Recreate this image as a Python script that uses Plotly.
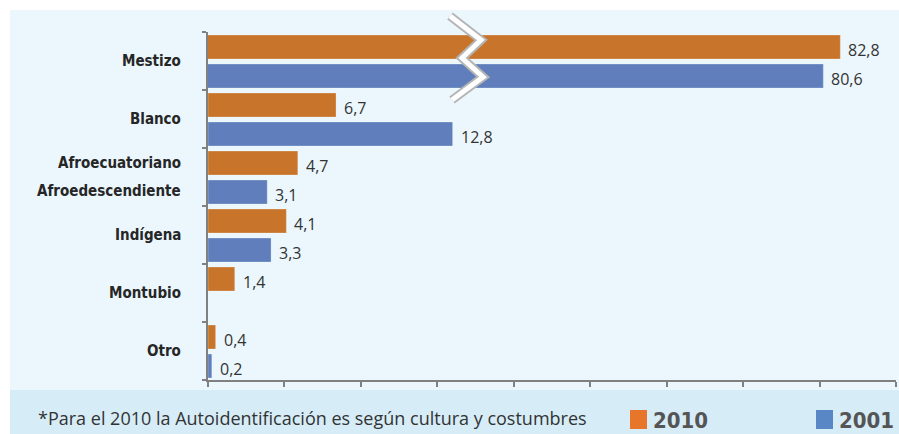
import plotly.graph_objects as go

# Autoidentificación étnica, censos 2010 y 2001 (%)
categories = ["Mestizo", "Blanco", "Afroecuatoriano / Afroedescendiente",
              "Indígena", "Montubio", "Otro"]
pct_2010 = [82.8, 6.7, 4.7, 4.1, 1.4, 0.4]
pct_2001 = [80.6, 12.8, 3.1, 3.3, None, 0.2]
years = ["2010", "2001"]
note = "*Para el 2010 la Autoidentificación es según cultura y costumbres"

AXIS_MAX = 36          # main scale; larger values go on the broken scale
BROKEN_RANGE = [1, 90]

BAR_COLORS = {"2010": "#C8742A", "2001": "#5F7EBB"}
KEY_COLORS = {"2010": "#E8762A", "2001": "#5987C5"}
BAR_OFFSET = {"2010": 0.034, "2001": -0.466}
BAR_WIDTH = 0.414

W, H = 899, 434
ML, MR, MT, MB = 208, 3, 32, 54
PW, PH = W - ML - MR, H - MT - MB

COND_BOLD = "DejaVu Sans Condensed, DejaVu Sans, sans-serif"
TEXT_FONT = "Open Sans, sans-serif"


def fmt(v):
    return f"{v:.1f}".replace(".", ",")


def px_to_paper(px, py):
    return (px - ML) / PW, (H - MB - py) / PH


fig = go.Figure()
annotations = []
for year, vals in zip(years, [pct_2010, pct_2001]):
    small = [v if (v is not None and v <= AXIS_MAX) else None for v in vals]
    big = [v if (v is not None and v > AXIS_MAX) else None for v in vals]
    for xs, xaxis in [(small, "x"), (big, "x2")]:
        fig.add_trace(go.Bar(
            y=categories, x=xs, orientation="h", xaxis=xaxis, yaxis="y",
            name=year, showlegend=False,
            marker=dict(color=BAR_COLORS[year],
                        line=dict(width=0.8, color="rgba(255,255,255,0.35)")),
            offset=BAR_OFFSET[year], width=BAR_WIDTH, hoverinfo="skip",
        ))
        # value labels just past the end of each bar
        for cat, v in zip(categories, xs):
            if v is None:
                continue
            annotations.append(dict(
                text=fmt(v), x=v, xref=xaxis, y=cat, yref="y",
                xanchor="left", yanchor="middle", xshift=6,
                yshift=(BAR_OFFSET[year] + BAR_WIDTH / 2) * PH / len(categories) - 3,
                showarrow=False,
                font=dict(family=TEXT_FONT, size=16, color="#333333")))

fig.update_layout(
    width=W, height=H, barmode="overlay",
    margin=dict(l=ML, r=MR, t=MT, b=MB, pad=0),
    paper_bgcolor="white", plot_bgcolor="rgba(0,0,0,0)",
    xaxis=dict(range=[0, AXIS_MAX], tick0=0, dtick=4, ticks="outside", ticklen=5,
               tickwidth=2, tickcolor="#808080", showticklabels=False,
               showline=True, linecolor="#808080", linewidth=2,
               showgrid=False, zeroline=False, fixedrange=True),
    xaxis2=dict(range=BROKEN_RANGE, overlaying="x", visible=False, fixedrange=True),
    yaxis=dict(type="category", categoryorder="array", categoryarray=categories[::-1],
               range=[-0.5, len(categories) - 0.5], ticks="outside", tickson="boundaries",
               ticklen=4, tickwidth=2, tickcolor="#808080", showticklabels=False,
               showline=True, linecolor="#808080", linewidth=2,
               showgrid=False, zeroline=False, fixedrange=True),
)

# Panel backgrounds
left, _ = px_to_paper(10, 0)
right, _ = px_to_paper(W, 0)
_, top = px_to_paper(0, 10)
_, split = px_to_paper(0, 390)
_, bottom = px_to_paper(0, H)
shapes = [
    dict(type="rect", xref="paper", yref="paper", layer="below",
         x0=left, x1=right, y0=split, y1=top,
         fillcolor="#EBF7FD", line=dict(width=0)),
    dict(type="rect", xref="paper", yref="paper", layer="below",
         x0=left, x1=right, y0=bottom, y1=split,
         fillcolor="#D6EDF8", line=dict(width=0)),
]

# Zigzag break across the long bars
zig = [(450, 16), (481, 40), (462, 58), (483, 77), (452, 100)]
pts = [px_to_paper(x, y) for x, y in zig]
path = "M " + " L ".join(f"{x:.5f},{y:.5f}" for x, y in pts)
for color, lw in [("#B5B5B5", 9), ("white", 5)]:
    shapes.append(dict(type="path", xref="paper", yref="paper", path=path,
                       line=dict(color=color, width=lw), layer="above"))

# Category labels (the Afro group names its 2010 and 2001 bars separately)
label_font = dict(family=COND_BOLD, size=15, color="#262626", weight="bold")
for cat in categories:
    parts = cat.split(" / ")
    shifts = [0] if len(parts) == 1 else [14, -14]
    for part, dy in zip(parts, shifts):
        annotations.append(dict(text=part, x=0, xref="paper", xanchor="right", xshift=-25,
                                y=cat, yref="y", yanchor="middle", yshift=dy,
                                showarrow=False, font=label_font))

# Footnote and key
annotations.append(dict(text=note, xref="paper", yref="paper",
                        x=px_to_paper(312, 0)[0], y=px_to_paper(0, 418)[1],
                        xanchor="center", yanchor="middle", showarrow=False,
                        font=dict(family=TEXT_FONT, size=18, color="#333333")))
for year, x0 in zip(years, [630, 816]):
    a, b = px_to_paper(x0, 429)
    c, d = px_to_paper(x0 + 17, 410)
    shapes.append(dict(type="rect", xref="paper", yref="paper", x0=a, y0=b, x1=c, y1=d,
                       fillcolor=KEY_COLORS[year], line=dict(width=0)))
    annotations.append(dict(text=year, xref="paper", yref="paper",
                            x=px_to_paper(x0 + 21, 0)[0], y=px_to_paper(0, 420)[1],
                            xanchor="left", yanchor="middle", showarrow=False,
                            font=dict(family=COND_BOLD, size=22, color="#555555",
                                      weight="bold")))

fig.update_layout(shapes=shapes, annotations=annotations)
fig.write_html("out.html")
